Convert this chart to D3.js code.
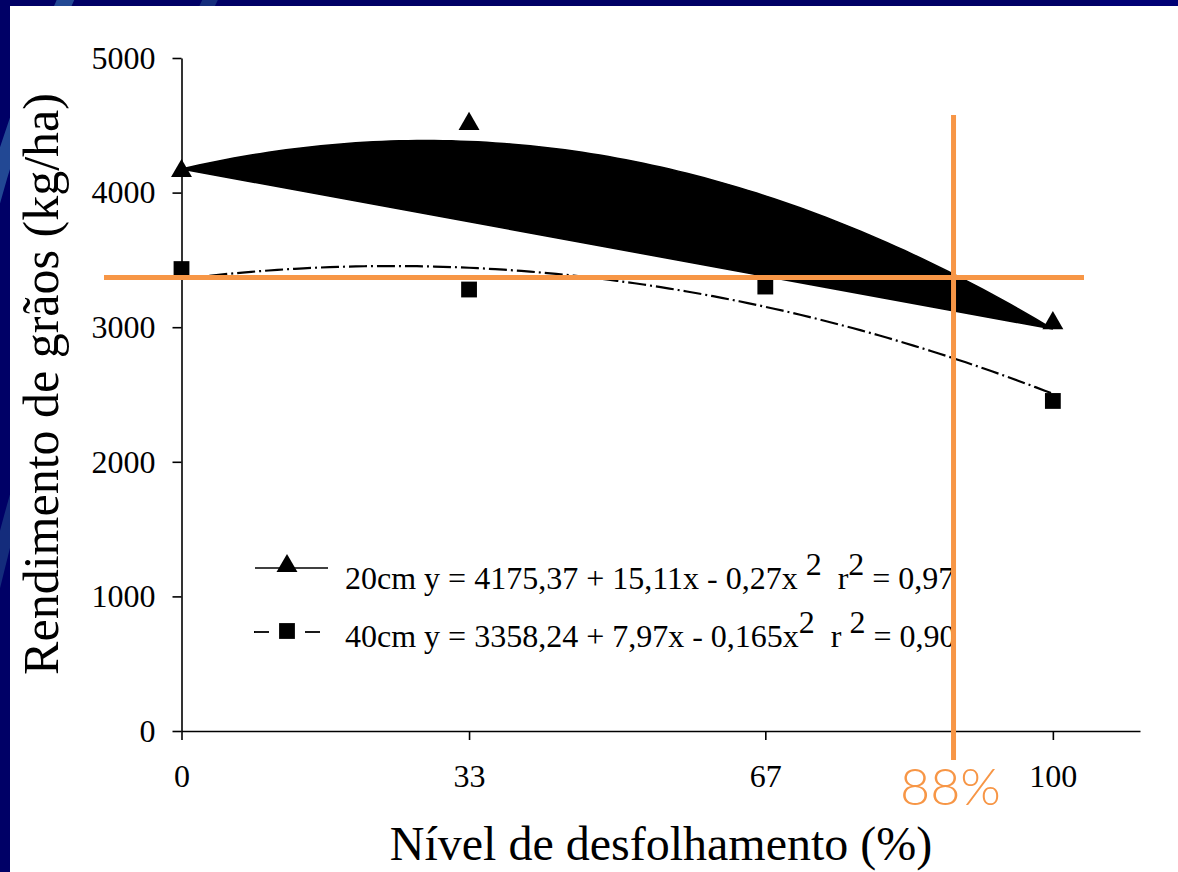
<!DOCTYPE html>
<html>
<head>
<meta charset="utf-8">
<script src="https://cdn.jsdelivr.net/npm/d3@7"></script>
<style>
  html, body { margin: 0; padding: 0; background: #000066; }
  svg { display: block; }
  .serif { font-family: "Liberation Serif", "Times New Roman", serif; }
  .pre { white-space: pre; }
</style>
</head>
<body>
<svg id="chart" width="1178" height="872"></svg>
<script>
// levels of defoliation and the yields
var levels = [0, 33, 67, 100];
var yield20 = [4160, 4510, 3850, 3030];
var yield40 = [3432, 3280, 3302, 2452];
// fitted curves, coefficients as printed in the legend
var coef20 = [4175.37, 15.11, -0.27];
var coef40 = [3358.24, 7.97, -0.165];
var xTicks = [0, 33, 67, 100];
var yTicks = [0, 1000, 2000, 3000, 4000, 5000];
// orange reference lines
var refX = 88.6, refY = 3370;

var svg = d3.select("#chart");

// slide background
svg.append("rect").attr("width", 1178).attr("height", 872).attr("fill", "#000066");
svg.append("path").attr("d", "M-20,250 Q10,120 70,-10").attr("fill", "none")
	.attr("stroke", "#2a5aa0").attr("stroke-width", 16).attr("opacity", 0.8);
svg.append("path").attr("d", "M-10,600 Q60,300 215,-10").attr("fill", "none")
	.attr("stroke", "#1d3f86").attr("stroke-width", 14).attr("opacity", 0.7);
svg.append("rect").attr("x", 1100).attr("y", 0).attr("width", 78).attr("height", 6).attr("fill", "#000075");
svg.append("rect").attr("x", 10).attr("y", 6).attr("width", 1168).attr("height", 866).attr("fill", "#fff");

var x = d3.scaleLinear().domain([0, 110]).range([181.5, 1140]);
var y = d3.scaleLinear().domain([0, 5000]).range([731, 58]);

function quad(c) {
	var pts = [];
	for (var i = 0; i <= 100; i++) pts.push([i, c[0] + c[1] * i + c[2] * i * i]);
	return pts;
}
var line = d3.line().x(function(d){ return x(d[0]); }).y(function(d){ return y(d[1]); });

// 20cm curve, filled shape as in the original slide
svg.append("path").attr("d", line(quad(coef20)) + "Z")
	.attr("fill", "#000").attr("stroke", "#000").attr("stroke-width", 1.5);

// 40cm curve
svg.append("path").attr("d", line(quad(coef40)))
	.attr("fill", "none").attr("stroke", "#000").attr("stroke-width", 2.2)
	.attr("stroke-dasharray", "18,4,2,4");

// axes
var yAxis = svg.append("g").attr("transform", "translate(" + x(0) + ",0)")
	.call(d3.axisLeft(y).tickValues(yTicks).tickFormat(d3.format("d"))
		.tickSize(9).tickSizeOuter(0).tickPadding(17));
var xAxis = svg.append("g").attr("transform", "translate(0," + y(0) + ")")
	.call(d3.axisBottom(x).tickValues(xTicks).tickSize(9).tickSizeOuter(0).tickPadding(24));
[yAxis, xAxis].forEach(function(a){
	a.attr("font-family", null).attr("font-size", null).attr("class", "serif");
	a.selectAll("path, line").attr("stroke", "#000").attr("stroke-width", 1.6);
	a.selectAll("text").attr("fill", "#000").attr("font-size", 32);
});

// markers
var tri = d3.symbol().type(d3.symbolTriangle).size(190);
var sq = d3.symbol().type(d3.symbolSquare).size(250);
svg.selectAll(".m20").data(levels).enter().append("path")
	.attr("d", tri).attr("fill", "#000")
	.attr("transform", function(d, i){ return "translate(" + x(d) + "," + y(yield20[i]) + ")"; });
svg.selectAll(".m40").data(levels).enter().append("path")
	.attr("d", sq).attr("fill", "#000")
	.attr("transform", function(d, i){ return "translate(" + x(d) + "," + y(yield40[i]) + ")"; });

// legend
var lg = svg.append("g").attr("class", "serif");
lg.append("line").attr("x1", 255).attr("x2", 328).attr("y1", 568).attr("y2", 568)
	.attr("stroke", "#000").attr("stroke-width", 1.6);
lg.append("path").attr("d", tri).attr("fill", "#000").attr("transform", "translate(287,566)");
lg.append("line").attr("x1", 254).attr("x2", 269).attr("y1", 632).attr("y2", 632)
	.attr("stroke", "#000").attr("stroke-width", 1.8);
lg.append("line").attr("x1", 305).attr("x2", 320).attr("y1", 632).attr("y2", 632)
	.attr("stroke", "#000").attr("stroke-width", 1.8);
lg.append("path").attr("d", sq).attr("fill", "#000").attr("transform", "translate(287,631)");

function legendText(yy, parts) {
	var t = lg.append("text").attr("class", "pre").attr("x", 345).attr("y", yy)
		.attr("font-size", 32).attr("fill", "#000");
	parts.forEach(function(p){
		t.append("tspan").attr("dy", p[1]).text(p[0]);
	});
}
legendText(589, [["20cm y = 4175,37 + 15,11x - 0,27x ", 0], ["2", -14], ["  r", 14], ["2", -14], [" = 0,97", 14]]);
legendText(647, [["40cm y = 3358,24 + 7,97x - 0,165x", 0], ["2", -14], ["  r ", 14], ["2", -14], [" = 0,90", 14]]);

// orange reference lines
var orange = "#f79646";
svg.append("line").attr("x1", 104).attr("x2", 1084).attr("y1", y(refY)).attr("y2", y(refY))
	.attr("stroke", orange).attr("stroke-width", 5);
svg.append("line").attr("x1", x(refX)).attr("x2", x(refX)).attr("y1", 115).attr("y2", 760)
	.attr("stroke", orange).attr("stroke-width", 5);
svg.append("text").attr("x", 900).attr("y", 805).text("88%")
	.attr("font-family", "Lato, 'Noto Sans', sans-serif").attr("font-weight", 300)
	.attr("font-size", 52).attr("fill", orange);

// axis titles
svg.append("text").attr("class", "serif").attr("transform", "translate(58,384) rotate(-90)")
	.attr("text-anchor", "middle").text("Rendimento de grãos (kg/ha)")
	.attr("font-size", 50).attr("fill", "#000");
svg.append("text").attr("class", "serif").attr("x", 661).attr("y", 860).attr("text-anchor", "middle")
	.text("Nível de desfolhamento (%)")
	.attr("font-size", 48).attr("fill", "#000");
</script>
</body>
</html>
